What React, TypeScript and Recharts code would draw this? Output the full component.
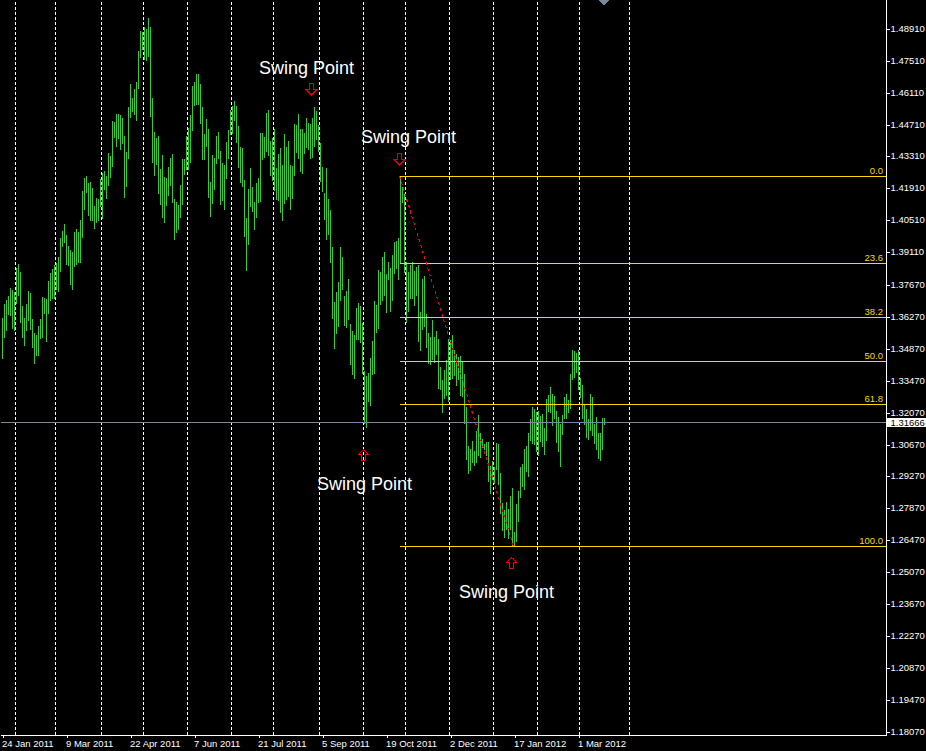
import { ComposedChart, Bar, XAxis, YAxis, ReferenceLine, ReferenceDot } from "recharts";

const highsA = [1.3625,1.3685,1.3703,1.3721,1.3756,1.3747,1.3738,1.3844,1.3861,1.3826,1.3677,1.3625,1.3685,1.3743,1.3734,1.3620,1.3559,1.3550,1.3590,1.3620,1.3716,1.3712,1.3708,1.3787,1.3822,1.3839,1.3857,1.3866,1.3892,1.3976,1.4006,1.4037,1.3988,1.3940,1.3923,1.3914,1.4002,1.4015,1.4002,1.4054,1.4181,1.4239,1.4247,1.4217,1.4221,1.4195,1.4115,1.4151,1.4146,1.4234];
const lowsA = [1.3444,1.3537,1.3568,1.3638,1.3634,1.3576,1.3568,1.3685,1.3721,1.3603,1.3537,1.3502,1.3568,1.3612,1.3572,1.3493,1.3422,1.3458,1.3458,1.3532,1.3537,1.3642,1.3519,1.3642,1.3699,1.3708,1.3708,1.3747,1.3738,1.3826,1.3936,1.3954,1.3857,1.3853,1.3769,1.3747,1.3848,1.3857,1.3866,1.3866,1.3976,1.4098,1.4173,1.4072,1.4050,1.4050,1.4015,1.4041,1.4050,1.4111];
const highsB = [1.4261,1.4270,1.4247,1.4349,1.4336,1.4489,1.4484,1.4519,1.4519,1.4515,1.4502,1.4423,1.4353,1.4550,1.4651,1.4590,1.4629,1.4660,1.4796,1.4884,1.4879,1.4901,1.4892,1.4941,1.4901,1.4590,1.4440,1.4414,1.4423,1.4278,1.4340,1.4243,1.4239,1.4287,1.4327,1.4344,1.4146,1.4133,1.4120,1.4208,1.4322,1.4322,1.4423,1.4458,1.4515,1.4642,1.4660,1.4695,1.4695,1.4651];
const lowsB = [1.4059,1.4186,1.4146,1.4204,1.4239,1.4287,1.4414,1.4375,1.4410,1.4362,1.4388,1.4151,1.4199,1.4322,1.4502,1.4528,1.4515,1.4489,1.4629,1.4765,1.4800,1.4756,1.4752,1.4769,1.4506,1.4305,1.4247,1.4296,1.4168,1.4120,1.4063,1.4041,1.4115,1.4160,1.4204,1.4129,1.3967,1.3997,1.4010,1.4063,1.4120,1.4252,1.4274,1.4274,1.4305,1.4445,1.4555,1.4559,1.4559,1.4476];
const highsC = [1.4550,1.4432,1.4497,1.4453,1.4221,1.4340,1.4327,1.4423,1.4440,1.4357,1.4305,1.4296,1.4396,1.4449,1.4537,1.4555,1.4576,1.4555,1.4467,1.4375,1.4371,1.4230,1.4063,1.4190,1.4283,1.4199,1.4133,1.4217,1.4239,1.4436,1.4436,1.4418,1.4524,1.4537,1.4401,1.4414,1.4453,1.4283,1.4344,1.4371,1.4296,1.4432,1.4375,1.4401,1.4296,1.4292,1.4476,1.4471,1.4519,1.4453];
const lowsC = [1.4318,1.4318,1.4375,1.4151,1.4067,1.4125,1.4186,1.4300,1.4322,1.4120,1.4138,1.4098,1.4234,1.4322,1.4427,1.4432,1.4489,1.4392,1.4283,1.4217,1.4199,1.3980,1.3831,1.3945,1.4111,1.4089,1.4010,1.4063,1.4129,1.4133,1.4318,1.4327,1.4353,1.4336,1.4247,1.4225,1.4181,1.4142,1.4138,1.4085,1.4050,1.4125,1.4142,1.4155,1.4098,1.4146,1.4247,1.4349,1.4322,1.4265];
const highsD = [1.4453,1.4436,1.4502,1.4480,1.4476,1.4502,1.4550,1.4533,1.4471,1.4392,1.4287,1.4173,1.4283,1.4146,1.4098,1.3936,1.3694,1.3738,1.3782,1.3936,1.3892,1.3721,1.3743,1.3796,1.3598,1.3568,1.3550,1.3668,1.3690,1.3677,1.3603,1.3392,1.3370,1.3383,1.3449,1.3524,1.3699,1.3681,1.3835,1.3826,1.3892,1.3914,1.3818,1.3870,1.3844,1.3901,1.3958,1.3962,1.3976,1.4247];
const lowsD = [1.4256,1.4344,1.4371,1.4362,1.4322,1.4327,1.4375,1.4405,1.4353,1.4221,1.4177,1.4054,1.3967,1.3988,1.3866,1.3620,1.3488,1.3554,1.3585,1.3699,1.3747,1.3590,1.3581,1.3616,1.3418,1.3374,1.3356,1.3528,1.3528,1.3515,1.3378,1.3160,1.3142,1.3256,1.3238,1.3374,1.3378,1.3559,1.3576,1.3681,1.3699,1.3721,1.3647,1.3791,1.3651,1.3699,1.3818,1.3839,1.3791,1.3861];
const highsE = [1.4199,1.4173,1.3870,1.3826,1.3857,1.3870,1.3831,1.3848,1.3857,1.3651,1.3796,1.3809,1.3642,1.3559,1.3541,1.3616,1.3541,1.3568,1.3532,1.3410,1.3352,1.3396,1.3440,1.3532,1.3528,1.3550,1.3484,1.3466,1.3453,1.3458,1.3431,1.3378,1.3234,1.3063,1.3049,1.3085,1.3041,1.3129,1.3199,1.3120,1.3093,1.3071,1.3080,1.3080,1.2975,1.2997,1.2971,1.3076,1.3071,1.2945];
const lowsE = [1.4129,1.3822,1.3603,1.3651,1.3708,1.3708,1.3677,1.3721,1.3519,1.3480,1.3572,1.3585,1.3493,1.3422,1.3418,1.3440,1.3427,1.3462,1.3313,1.3309,1.3208,1.3270,1.3283,1.3256,1.3352,1.3356,1.3370,1.3326,1.3352,1.3283,1.3278,1.3160,1.3002,1.2940,1.2953,1.2989,1.2975,1.2989,1.3019,1.3010,1.3054,1.3045,1.3019,1.2905,1.2852,1.2914,1.2896,1.2958,1.2892,1.2765];
const highsF = [1.2813,1.2782,1.2817,1.2786,1.2844,1.2879,1.2686,1.2808,1.2865,1.2971,1.2984,1.3049,1.3063,1.3120,1.3181,1.3234,1.3225,1.3212,1.3216,1.3194,1.3203,1.3142,1.3270,1.3287,1.3322,1.3291,1.3283,1.3216,1.3190,1.3160,1.3199,1.3278,1.3291,1.3265,1.3378,1.3484,1.3480,1.3471,1.3484,1.3361,1.3331,1.3243,1.3225,1.3181,1.3291,1.3278,1.3160,1.3190,1.3120,1.3120,1.3186,1.3186];
const lowsF = [1.2690,1.2659,1.2694,1.2655,1.2694,1.2620,1.2620,1.2642,1.2729,1.2835,1.2883,1.2870,1.2949,1.2927,1.3085,1.3071,1.3067,1.3036,1.3019,1.3080,1.3058,1.3023,1.3085,1.3212,1.3208,1.3151,1.3181,1.3076,1.3036,1.2971,1.3111,1.3181,1.3181,1.3208,1.3225,1.3352,1.3361,1.3383,1.3309,1.3274,1.3181,1.3155,1.3098,1.3089,1.3129,1.3107,1.3071,1.3045,1.3006,1.2997,1.3045,1.3155];

const highs = [...highsA, ...highsB, ...highsC, ...highsD, ...highsE, ...highsF];
const lows = [...lowsA, ...lowsB, ...lowsC, ...lowsD, ...lowsE, ...lowsF];

// slots on the time axis, the chart leaves empty room right of the last bar
const SLOTS = 443;
const LAST_SLOT = SLOTS - 1;

const dateTicks = [1, 33, 65, 97, 129, 161, 193, 225, 257, 289];
const dateLabels = ["24 Jan 2011", "9 Mar 2011", "22 Apr 2011", "7 Jun 2011", "21 Jul 2011", "5 Sep 2011", "19 Oct 2011", "2 Dec 2011", "17 Jan 2012", "1 Mar 2012"];
const gridSlots = [7, 27, 50, 71, 93, 115, 136, 159, 181, 202, 224, 246, 268, 289, 314];

const currentPrice = 1.31666;
const priceTicks = [1.4891, 1.4751, 1.4611, 1.4471, 1.4331, 1.4191, 1.4051, 1.3911, 1.3767, 1.3627, 1.3487, 1.3347, 1.3207, 1.3067, 1.2927, 1.2787, 1.2647, 1.2507, 1.2367, 1.2227, 1.2087, 1.1947, 1.1807, currentPrice];
const PRICE_TOP = 1.50195;
const PRICE_BOTTOM = 1.17951;

const fibNames = ["0.0", "23.6", "38.2", "50.0", "61.8", "100.0"];
const fibPrices = [1.4247, 1.3864, 1.3627, 1.3435, 1.3243, 1.2623];
const FIB_START = 199;

const trendFrom = { slot: 199, price: 1.4247 };
const trendTo = { slot: 256, price: 1.2623 };

const swingTextSlots = [153, 204, 182, 253];
const swingTextPrices = [1.4721, 1.4418, 1.2896, 1.2422];
const arrowDownSlots = [155, 199];
const arrowDownPrices = [1.4627, 1.4320];
const arrowUpSlots = [181, 255];
const arrowUpPrices = [1.3024, 1.2550];

const chartData = Array.from({ length: SLOTS }, (_, i) => ({
    slot: i,
    range: i < highs.length ? [lows[i], highs[i]] : null
}));

const FONT = "'Liberation Sans', Arial, sans-serif";

const DateTick = ({ x, y, payload }: any) => {
    const label = dateLabels[dateTicks.indexOf(payload.value)];
    return (
        <text x={x - 1.5} y={y + 9} fill="#fff" fontSize={9.5} fontFamily={FONT} textAnchor="start">
            {label}
        </text>
    );
};

const PriceTick = ({ x, y, payload }: any) => {
    const isCurrent = payload.value === currentPrice;
    return (
        <g>
            {isCurrent && <rect x={x - 3.5} y={y - 4} width={41} height={9} fill="#fff" />}
            <text x={x + 0.5} y={y + 2.5 + (isCurrent ? 1 : 0)} fill={isCurrent ? "#000" : "#fff"} fontSize={9.5} fontFamily={FONT} textAnchor="start">
                {payload.value.toFixed(5)}
            </text>
        </g>
    );
};

// each bar is one pixel wide on a whole pixel, like the terminal draws it
const HighLowBar = ({ x, y, width, height, fill }: any) => {
    if (!height) return null;
    return <rect x={Math.floor(x + width / 2)} y={Math.round(y)} width={1} height={Math.round(height)} fill={fill} />;
};

const ArrowDown = ({ cx, cy }: any) => (
    <path d={`M${cx - 2} ${cy - 5.5}h4v6h3l-5 5l-5 -5h3z`} fill="none" stroke="#e00000" />
);

const ArrowUp = ({ cx, cy }: any) => (
    <path d={`M${cx - 2} ${cy + 5.5}h4v-6h3l-5 -5l-5 5h3z`} fill="none" stroke="#ff0000" />
);

const SwingText = ({ cx, cy }: any) => (
    <text x={cx - 1} y={cy} dy={6} fill="#fff" fontSize={18} fontFamily={FONT} textAnchor="middle">
        Swing Point
    </text>
);

const App = () => {
    return (
        <div style={{ position: "absolute", left: 0, top: 0, width: 926, height: 751, background: "#000", overflow: "hidden", shapeRendering: "crispEdges" }}>
            <ComposedChart
                width={926}
                height={751}
                data={chartData}
                margin={{ top: 0, right: 0, bottom: 0, left: 0.5 }}
                barCategoryGap={0}
            >
                <XAxis
                    dataKey="slot"
                    type="category"
                    ticks={dateTicks}
                    interval={0}
                    height={16}
                    tickSize={3}
                    tickMargin={0}
                    stroke="#fff"
                    tick={<DateTick />}
                />
                <YAxis
                    orientation="right"
                    type="number"
                    width={39.5}
                    domain={[PRICE_BOTTOM, PRICE_TOP]}
                    allowDataOverflow
                    ticks={priceTicks}
                    interval={0}
                    tickSize={3}
                    tickMargin={0.5}
                    stroke="#fff"
                    tick={<PriceTick />}
                />
                <Bar dataKey="range" barSize={1} fill="#32cd32" shape={<HighLowBar />} isAnimationActive={false} />
                {gridSlots.map((slot) => (
                    <ReferenceLine key={slot} x={slot} stroke="#fff" strokeDasharray="3 2" />
                ))}
                <ReferenceLine y={currentPrice} stroke="#778899" />
                {fibPrices.map((price) => (
                    <ReferenceLine
                        key={price}
                        segment={[{ x: FIB_START, y: price }, { x: LAST_SLOT, y: price }]}
                        stroke="#ffd700"
                    />
                ))}
                <ReferenceLine
                    segment={[{ x: trendFrom.slot, y: trendFrom.price }, { x: trendTo.slot, y: trendTo.price }]}
                    stroke="#ff0000"
                    strokeDasharray="3 3"
                />
                {fibPrices.map((price, i) => (
                    <ReferenceDot
                        key={price}
                        x={LAST_SLOT}
                        y={price}
                        ifOverflow="visible"
                        shape={({ cx, cy }: any) => (
                            <text x={cx - 2.5} y={cy - 2.5} fill="#ffd700" fontSize={9.5} fontFamily={FONT} textAnchor="end">
                                {fibNames[i]}
                            </text>
                        )}
                    />
                ))}
                {arrowDownSlots.map((slot, i) => (
                    <ReferenceDot key={slot} x={slot} y={arrowDownPrices[i]} ifOverflow="visible" shape={<ArrowDown />} />
                ))}
                {arrowUpSlots.map((slot, i) => (
                    <ReferenceDot key={slot} x={slot} y={arrowUpPrices[i]} ifOverflow="visible" shape={<ArrowUp />} />
                ))}
                {swingTextSlots.map((slot, i) => (
                    <ReferenceDot key={slot} x={slot} y={swingTextPrices[i]} ifOverflow="visible" shape={<SwingText />} />
                ))}
                <ReferenceDot
                    x={highs.length - 1}
                    y={PRICE_TOP}
                    ifOverflow="visible"
                    shape={({ cx, cy }: any) => (
                        <polygon points={`${cx - 5.5},${cy} ${cx + 5.5},${cy} ${cx},${cy + 5.5}`} fill="#778899" />
                    )}
                />
            </ComposedChart>
        </div>
    );
};

export default App;
